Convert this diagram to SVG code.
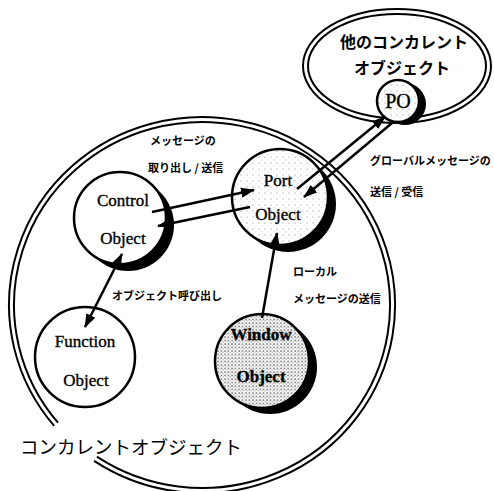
<svg xmlns="http://www.w3.org/2000/svg" width="494" height="491" viewBox="0 0 494 491">
<style>
.ring{fill:none;stroke:#000;stroke-width:2}
.node{stroke:#000;stroke-width:2.5}
.shadow{fill:#000}
.lbl{font-family:"Liberation Serif","Times New Roman",serif;font-size:17px;text-anchor:middle;fill:#000;stroke:#000;stroke-width:0.35}
.jp{font-family:"Noto Sans CJK JP",sans-serif;font-size:11px;font-weight:bold;fill:#000}
.jpL{font-family:"Noto Sans CJK JP",sans-serif;font-size:16px;font-weight:bold;fill:#000;text-anchor:middle}
.jpB{font-family:"Noto Sans CJK JP",sans-serif;font-size:18.5px;fill:#000}
.conn{stroke:#000;stroke-width:2.5;fill:none}
</style>
<defs>
<pattern id="stip1" width="6" height="6" patternUnits="userSpaceOnUse"><rect width="6" height="6" fill="#fff"/><circle cx="1" cy="1" r="0.5" fill="#666"/><circle cx="4" cy="3.8" r="0.4" fill="#888"/></pattern>
<pattern id="stip2" width="3.5" height="3.5" patternUnits="userSpaceOnUse"><rect width="3.5" height="3.5" fill="#fff"/><circle cx="1" cy="1" r="0.7" fill="#333"/><circle cx="2.7" cy="2.5" r="0.55" fill="#555"/></pattern>
<marker id="ah" markerWidth="14" markerHeight="10" refX="13" refY="5" orient="auto-start-reverse" markerUnits="userSpaceOnUse"><path d="M0,0 L14,5 L0,10 z" fill="#000"/></marker>
</defs>
<rect width="494" height="491" fill="#fff"/>

<g id="concurrent-object">
<path class="ring" d="M54.2,425.9 A193,188 0 1 1 94.1,460.9"/>
<path class="ring" d="M58.0,422.6 A188,183 0 1 1 96.9,456.7"/>
<text class="jpB" x="20" y="454">コンカレントオブジェクト</text>
</g>

<g id="other-concurrent-object">
<ellipse class="ring" cx="397" cy="66" rx="94" ry="57"/>
<ellipse class="ring" cx="397" cy="66" rx="89" ry="52"/>
<text class="jpL" x="404" y="48">他のコンカレント</text>
<text class="jpL" x="402" y="74">オブジェクト</text>
</g>

<g id="po">
<circle class="shadow" cx="405" cy="104" r="21"/>
<circle class="node" cx="398" cy="101" r="21" fill="url(#stip1)"/>
<text class="lbl" x="398" y="108" style="font-size:20px">PO</text>
</g>

<g id="control-object">
<circle class="shadow" cx="128" cy="225" r="46"/>
<circle class="node" cx="120" cy="218" r="46" fill="#fff"/>
<text class="lbl" x="123" y="206">Control</text>
<text class="lbl" x="123" y="244">Object</text>
</g>

<g id="port-object">
<circle class="shadow" cx="288" cy="204" r="48"/>
<circle class="node" cx="280" cy="197" r="48" fill="url(#stip1)"/>
<text class="lbl" x="278" y="186">Port</text>
<text class="lbl" x="278" y="220">Object</text>
</g>

<g id="function-object">
<circle class="node" cx="85" cy="357" r="50" fill="#fff"/>
<text class="lbl" x="85" y="347">Function</text>
<text class="lbl" x="86" y="386">Object</text>
</g>

<g id="window-object">
<circle class="shadow" cx="270" cy="367" r="47"/>
<circle class="node" cx="262" cy="361" r="47" fill="url(#stip2)"/>
<text class="lbl" x="261" y="340" style="font-weight:bold">Window</text>
<text class="lbl" x="261" y="382" style="font-weight:bold">Object</text>
</g>

<g id="connectors">
<line class="conn" x1="152" y1="212" x2="254" y2="190" marker-end="url(#ah)"/>
<line class="conn" x1="250" y1="207" x2="158" y2="226" marker-end="url(#ah)"/>
<line class="conn" x1="122" y1="254" x2="85" y2="327" marker-start="url(#ah)" marker-end="url(#ah)"/>
<line class="conn" x1="262" y1="318" x2="277" y2="233" marker-end="url(#ah)"/>
<line class="conn" x1="297" y1="189" x2="385" y2="117" marker-end="url(#ah)"/>
<line class="conn" x1="392" y1="123" x2="304" y2="197" marker-end="url(#ah)"/>
</g>

<g id="labels">
<text class="jp" x="150" y="145">メッセージの</text>
<text class="jp" x="148" y="172">取り出し / 送信</text>
<text class="jp" x="370" y="165">グローバルメッセージの</text>
<text class="jp" x="370" y="196">送信 / 受信</text>
<text class="jp" x="293" y="276">ローカル</text>
<text class="jp" x="293" y="303">メッセージの送信</text>
<text class="jp" x="112" y="300">オブジェクト呼び出し</text>
</g>
</svg>
